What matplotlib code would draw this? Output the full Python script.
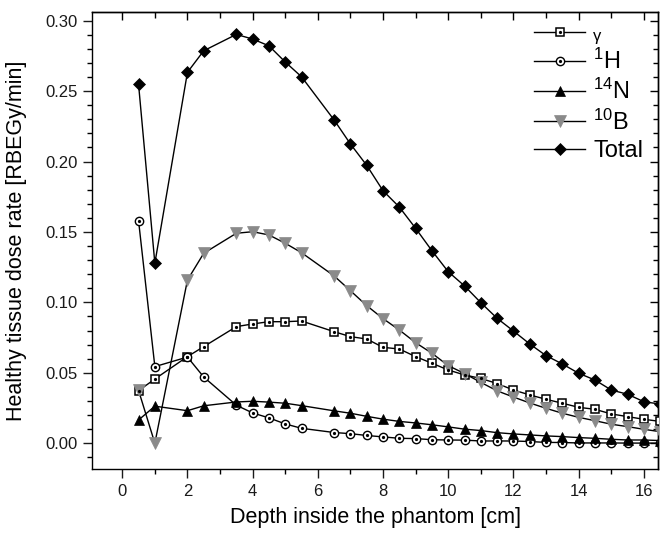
import matplotlib
matplotlib.use("Agg")
import matplotlib.pyplot as plt
from matplotlib.ticker import MultipleLocator, FormatStrFormatter, NullFormatter
from matplotlib.legend_handler import HandlerTuple

plt.rcParams['font.family'] = ['Liberation Sans', 'DejaVu Sans']
plt.rcParams['mathtext.fontset'] = 'custom'
plt.rcParams['mathtext.rm'] = 'Liberation Sans'
plt.rcParams['mathtext.it'] = 'Liberation Sans:italic'

depth = [0.5, 1, 2, 2.5, 3.5, 4, 4.5, 5, 5.5, 6.5, 7, 7.5, 8, 8.5, 9, 9.5, 10,
         10.5, 11, 11.5, 12, 12.5, 13, 13.5, 14, 14.5, 15, 15.5, 16, 16.5]

gamma = [0.0373, 0.0456, 0.0615, 0.0686, 0.0828, 0.0847, 0.0863, 0.0863, 0.0868,
         0.0792, 0.0757, 0.0740, 0.0681, 0.0669, 0.0615, 0.0568, 0.0520, 0.0485,
         0.0460, 0.0424, 0.0378, 0.0343, 0.0312, 0.0284, 0.0255, 0.0241, 0.0208,
         0.0189, 0.0170, 0.0155]

h1 = [0.158, 0.0544, 0.0612, 0.0470, 0.0270, 0.0215, 0.0180, 0.0137, 0.0106,
      0.0076, 0.0068, 0.0055, 0.0045, 0.0035, 0.0033, 0.0025, 0.0023, 0.0022,
      0.0016, 0.0016, 0.0016, 0.0012, 0.0006, 0.0005, 0.0002, 0.0002, 0.0002,
      0.0001, 0.0001, 0.0001]

n14 = [0.0165, 0.0263, 0.0231, 0.0266, 0.0293, 0.0298, 0.0292, 0.0284, 0.0267,
       0.0230, 0.0213, 0.0191, 0.0171, 0.0155, 0.0144, 0.0131, 0.0116, 0.0100,
       0.0090, 0.0075, 0.0066, 0.0059, 0.0052, 0.0047, 0.0040, 0.0035, 0.0028,
       0.0023, 0.0023, 0.0019]

b10 = [0.0375, 0.0, 0.1159, 0.1349, 0.1491, 0.1502, 0.1479, 0.1420, 0.1353,
       0.1188, 0.1083, 0.0977, 0.0885, 0.0804, 0.0714, 0.0639, 0.0551, 0.0495,
       0.0432, 0.0372, 0.0328, 0.0286, 0.0248, 0.0213, 0.0184, 0.0160, 0.0135,
       0.0118, 0.0099, 0.0082]

total = [0.2548, 0.1278, 0.2634, 0.2787, 0.2903, 0.2870, 0.2822, 0.2707, 0.2602,
         0.2295, 0.2125, 0.1973, 0.1793, 0.1677, 0.1526, 0.1367, 0.1218, 0.1117,
         0.0998, 0.0887, 0.0797, 0.0705, 0.0622, 0.0563, 0.0497, 0.0449, 0.0378,
         0.0348, 0.0295, 0.0278]

labels = ['γ', '$^{1}$H', '$^{14}$N', '$^{10}$B', 'Total']

fig = plt.figure(figsize=(6.6, 5.37), dpi=100)
ax = fig.add_axes([0.1398, 0.1261, 0.9977 - 0.1398, 0.9771 - 0.1261])

lw = 1.0
gray = '#8a8a8a'

l_g, = ax.plot(depth, gamma, color='black', lw=lw, marker='s', ms=5.5,
               mfc='white', mec='black', mew=1.1, zorder=3)
d_g, = ax.plot(depth, gamma, ls='none', marker='o', ms=1.3, color='black', zorder=4)
l_h, = ax.plot(depth, h1, color='black', lw=lw, marker='o', ms=6.0,
               mfc='white', mec='black', mew=1.0, zorder=3)
d_h, = ax.plot(depth, h1, ls='none', marker='o', ms=1.3, color='black', zorder=4)
l_n, = ax.plot(depth, n14, color='black', lw=lw, marker='^', ms=7.0,
               mfc='black', mec='black', mew=0.5, zorder=3)
l_b, = ax.plot(depth, b10, color='black', lw=lw, marker='v', ms=8.0,
               mfc=gray, mec=gray, mew=0.5, zorder=3)
l_t, = ax.plot(depth, total, color='black', lw=lw, marker='D', ms=6.0,
               mfc='black', mec='black', mew=0.5, zorder=3)

ax.set_xlim(-0.92, 16.45)
ax.set_ylim(-0.0185, 0.306)

ax.xaxis.set_major_locator(MultipleLocator(2))
ax.xaxis.set_minor_locator(MultipleLocator(1))
ax.yaxis.set_major_locator(MultipleLocator(0.05))
ax.yaxis.set_minor_locator(MultipleLocator(0.01))
ax.yaxis.set_major_formatter(FormatStrFormatter('%.2f'))

ax.tick_params(axis='both', which='major', direction='out', length=6.5, width=1.0,
               labelsize=12, colors='#1a1a1a', pad=4)
ax.tick_params(axis='both', which='minor', direction='out', length=3.5, width=1.0)

# top and right ticks pointing inward
secx = ax.secondary_xaxis('top')
secx.xaxis.set_major_locator(MultipleLocator(2))
secx.xaxis.set_minor_locator(MultipleLocator(1))
secx.xaxis.set_major_formatter(NullFormatter())
secx.tick_params(which='major', direction='in', length=6, width=1.0)
secx.tick_params(which='minor', direction='in', length=4.5, width=1.0)
secx.spines['top'].set_linewidth(1.0)

secy = ax.secondary_yaxis('right')
secy.yaxis.set_major_locator(MultipleLocator(0.05))
secy.yaxis.set_minor_locator(MultipleLocator(0.01))
secy.yaxis.set_major_formatter(NullFormatter())
secy.tick_params(which='major', direction='in', length=6, width=1.0)
secy.tick_params(which='minor', direction='in', length=3.5, width=1.0)
secy.spines['right'].set_linewidth(1.0)

for s in ax.spines.values():
    s.set_linewidth(1.0)

ax.set_xlabel('Depth inside the phantom [cm]', fontsize=15.5, labelpad=6)
ax.set_ylabel('Healthy tissue dose rate [RBEGy/min]', fontsize=15.5, labelpad=13)

handles = [(l_g, d_g), (l_h, d_h), l_n, l_b, l_t]
leg = ax.legend(handles, labels, loc='upper right', bbox_to_anchor=(0.99, 0.995),
                borderaxespad=0.0, frameon=False, fontsize=17, handlelength=2.15,
                handletextpad=0.35, labelspacing=0.22, numpoints=1,
                handler_map={tuple: HandlerTuple(ndivide=1)})
leg.get_texts()[0].set_fontsize(12)

fig.savefig('out.png', dpi=100)
